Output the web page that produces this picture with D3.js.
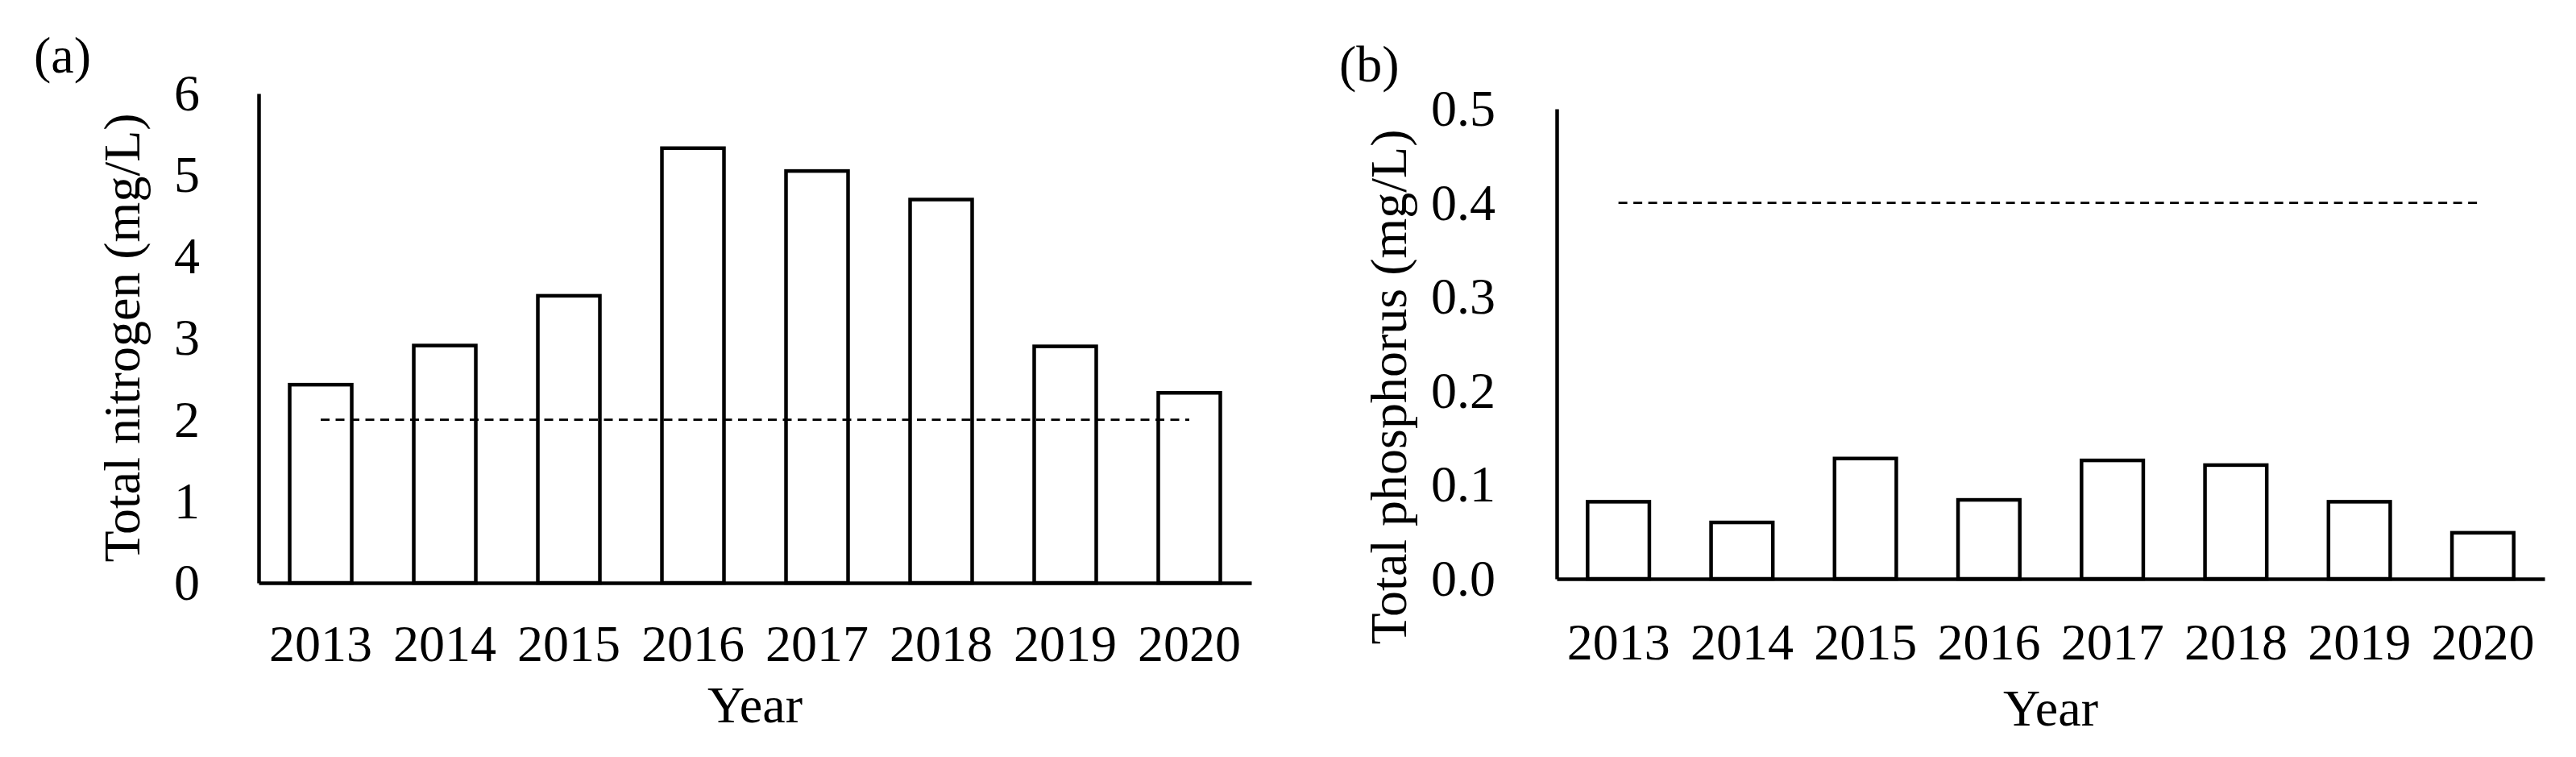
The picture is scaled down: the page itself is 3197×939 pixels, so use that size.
<!DOCTYPE html>
<html>
<head>
<meta charset="utf-8">
<script src="https://cdn.jsdelivr.net/npm/d3@7"></script>
<style>
  html, body { margin: 0; padding: 0; background: #fff; }
  svg { display: block; }
  text { font-family: "Liberation Serif", "Times New Roman", serif; fill: #000; }
</style>
</head>
<body>
<svg id="chart" width="3197" height="939"></svg>
<script>
// ---- data ----
const years = ["2013", "2014", "2015", "2016", "2017", "2018", "2019", "2020"];
const nitrogen = [2.43, 2.91, 3.52, 5.33, 5.05, 4.70, 2.90, 2.33];
const phosphorus = [0.082, 0.060, 0.128, 0.084, 0.126, 0.121, 0.082, 0.049];
const nitrogenTicks = [0, 1, 2, 3, 4, 5, 6];
const phosphorusTicks = [0, 0.1, 0.2, 0.3, 0.4, 0.5];
const nitrogenLimit = 2;
const phosphorusLimit = 0.4;
const panelLabels = ["(a)", "(b)"];
const yTitles = ["Total nitrogen (mg/L)", "Total phosphorus (mg/L)"];
const xTitle = "Year";

// ---- layout ----
const FONT = 64;
const panels = [
  {
    values: nitrogen, ticks: nitrogenTicks, limit: nitrogenLimit, fmt: d3.format("d"),
    label: panelLabels[0], yTitle: yTitles[0],
    left: 321, right: 1553, top: 116, bottom: 723, yMax: 6,
    labelX: 42, labelY: 90, yTitleX: 173, yTitleY: 419,
    yPad: 73, xPad: 52, xTitleY: 896
  },
  {
    values: phosphorus, ticks: phosphorusTicks, limit: phosphorusLimit, fmt: d3.format(".1f"),
    label: panelLabels[1], yTitle: yTitles[1],
    left: 1932, right: 3158, top: 135, bottom: 718, yMax: 0.5,
    labelX: 1662, labelY: 101, yTitleX: 1745, yTitleY: 480,
    yPad: 76, xPad: 55, xTitleY: 900
  }
];

const svg = d3.select("#chart");
svg.append("rect").attr("width", 3197).attr("height", 939).attr("fill", "#fff");

panels.forEach(p => {
  const g = svg.append("g");
  const x = d3.scaleBand().domain(years).range([p.left, p.right])
    .paddingInner(0.5).paddingOuter(0.25);
  const y = d3.scaleLinear().domain([0, p.yMax]).range([p.bottom, p.top]);

  // bars
  g.selectAll("rect.bar").data(p.values).enter().append("rect")
    .attr("class", "bar")
    .attr("x", (d, i) => x(years[i]))
    .attr("width", x.bandwidth())
    .attr("y", d => y(d))
    .attr("height", d => y(0) - y(d))
    .attr("fill", "#fff")
    .attr("stroke", "#000")
    .attr("stroke-width", 4.5);

  // guideline (dashed)
  g.append("line")
    .attr("x1", x(years[0]) + x.bandwidth() / 2)
    .attr("x2", x(years[years.length - 1]) + x.bandwidth() / 2)
    .attr("y1", y(p.limit)).attr("y2", y(p.limit))
    .attr("stroke", "#000").attr("stroke-width", 2.6)
    .attr("stroke-dasharray", "11,7.5");

  // y axis
  const yAxis = d3.axisLeft(y).tickValues(p.ticks).tickFormat(p.fmt)
    .tickSize(0).tickSizeOuter(0).tickPadding(p.yPad);
  const ga = g.append("g").attr("transform", `translate(${p.left},0)`).call(yAxis);
  ga.select(".domain").attr("stroke", "#000").attr("stroke-width", 4.5);
  ga.selectAll("text").style("font-size", FONT + "px").attr("fill", "#000")
    .attr("font-family", "Liberation Serif, Times New Roman, serif");

  // x axis
  const xAxis = d3.axisBottom(x).tickSize(0).tickSizeOuter(0).tickPadding(p.xPad);
  const gx = g.append("g").attr("transform", `translate(0,${p.bottom})`).call(xAxis);
  gx.select(".domain").attr("stroke", "#000").attr("stroke-width", 4.5);
  gx.selectAll("text").style("font-size", FONT + "px").attr("fill", "#000")
    .attr("font-family", "Liberation Serif, Times New Roman, serif");

  // titles
  g.append("text")
    .attr("transform", `translate(${p.yTitleX},${p.yTitleY}) rotate(-90)`)
    .attr("text-anchor", "middle")
    .style("font-size", FONT + "px")
    .text(p.yTitle);

  g.append("text")
    .attr("x", (p.left + p.right) / 2).attr("y", p.xTitleY)
    .attr("text-anchor", "middle")
    .style("font-size", FONT + "px")
    .text(xTitle);

  g.append("text")
    .attr("x", p.labelX).attr("y", p.labelY)
    .style("font-size", FONT + "px")
    .text(p.label);
});
</script>
</body>
</html>
